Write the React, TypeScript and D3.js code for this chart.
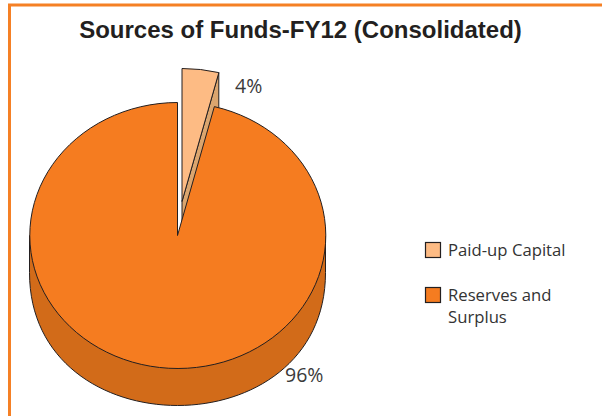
import * as d3 from 'd3'

const categories = ['Paid-up Capital', 'Reserves and Surplus']
const shares = [4, 96]
const shareLabels = ['4%', '96%']
const topColors = ['#fdbb84', '#f57c20']
const wallColors = ['#dba56e', '#d26b19']
const INK = '#231f20'
const FRAME = '#f58025'

const W = 602
const H = 416
const cx = 177.5
const cy = 235.5
const rx = 148
const ry = 133
const depth = 37
const explodeX = 4.5
const explodeY = -34

export default function App() {
  const slices = d3.pie<number>().sort(null)(shares)
  const arc = d3.arc<d3.PieArcDatum<number>>().innerRadius(0).outerRadius(1)

  const [small, big] = slices
  const endX = rx * Math.sin(small.endAngle)
  const endY = -ry * Math.cos(small.endAngle)

  // side wall of the big slice, front half of the cylinder
  const wall = d3.path()
  wall.moveTo(cx - rx, cy)
  wall.lineTo(cx - rx, cy + depth)
  wall.bezierCurveTo(cx - rx, cy + depth + ry * 1.3333, cx + rx, cy + depth + ry * 1.3333, cx + rx, cy + depth)
  wall.lineTo(cx + rx, cy)
  wall.closePath()

  // cut face of the pulled out slice
  const tipX = cx + explodeX
  const tipY = cy + explodeY
  const cut = d3.path()
  cut.moveTo(tipX, tipY)
  cut.lineTo(tipX + endX, tipY + endY)
  cut.lineTo(tipX + endX, tipY + endY + depth)
  cut.lineTo(tipX, tipY + depth)
  cut.closePath()

  return (
    <svg
      width={W}
      height={H}
      viewBox={`0 0 ${W} ${H}`}
      style={{ position: 'absolute', left: 0, top: 0, display: 'block', background: '#fff' }}
    >
      <path d={`M9.5,${H}V5H${W}`} fill="none" stroke={FRAME} strokeWidth={3} />

      <text
        x={300.5}
        y={38}
        textAnchor="middle"
        fontFamily="Liberation Sans"
        fontWeight="bold"
        fontSize={24}
        fill={INK}
      >
        Sources of Funds-FY12 (Consolidated)
      </text>

      <path d={cut.toString()} fill={wallColors[0]} stroke={INK} strokeWidth={1} />
      <path
        d={arc(small) ?? ''}
        transform={`translate(${tipX},${tipY}) scale(${rx},${ry})`}
        fill={topColors[0]}
        stroke={INK}
        strokeWidth={1}
        vectorEffect="non-scaling-stroke"
      />

      <path d={wall.toString()} fill={wallColors[1]} stroke={INK} strokeWidth={1} />
      <path
        d={arc(big) ?? ''}
        transform={`translate(${cx},${cy}) scale(${rx},${ry})`}
        fill={topColors[1]}
        stroke={INK}
        strokeWidth={1}
        vectorEffect="non-scaling-stroke"
      />

      <g fontFamily="Open Sans" fontSize={19.5} fill="#3a3a3a">
        <text x={235} y={93}>{shareLabels[0]}</text>
        <text x={285} y={382}>{shareLabels[1]}</text>
      </g>

      <g fontFamily="Open Sans" fontSize={16.7} fill="#333">
        <rect x={425.5} y={242.5} width={15} height={15} fill={topColors[0]} stroke={INK} strokeWidth={1.2} />
        <text x={448} y={256}>{categories[0]}</text>
        <rect x={425.5} y={287.5} width={15} height={15} fill={topColors[1]} stroke={INK} strokeWidth={1.2} />
        <text x={448} y={301}>Reserves and</text>
        <text x={448} y={323}>Surplus</text>
      </g>
    </svg>
  )
}
